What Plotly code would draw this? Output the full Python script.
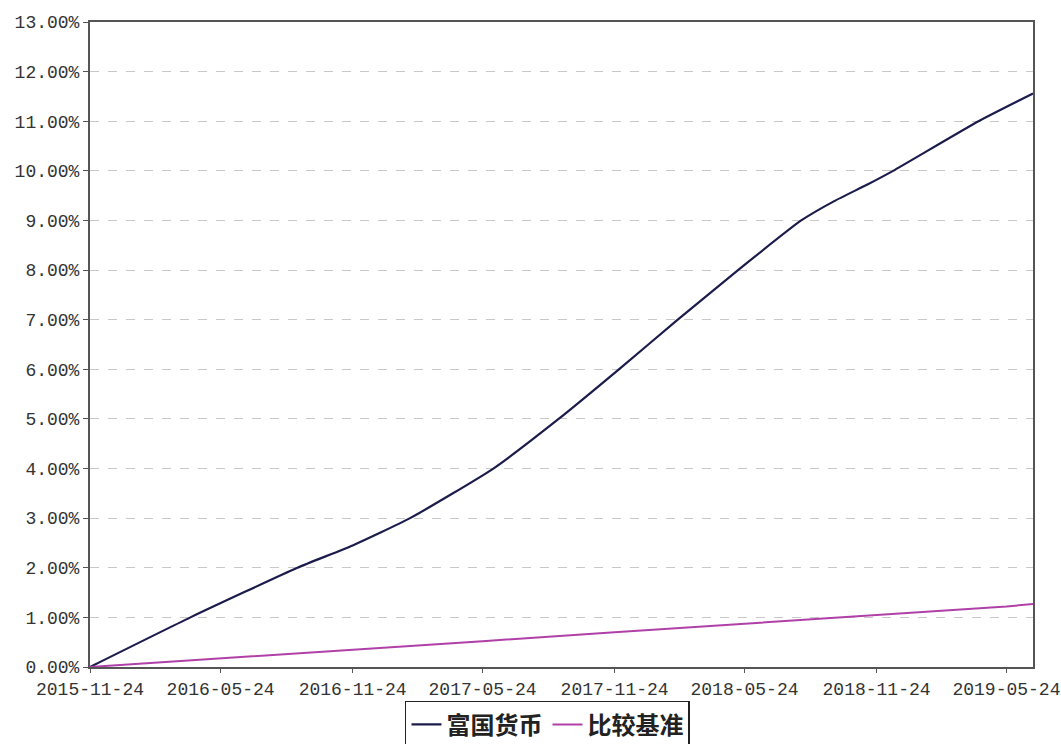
import plotly.graph_objects as go

# Fund cumulative return (%), read at the dates where it crosses each level
fund_dates = [
    "2015-11-24", "2016-04-12", "2016-09-08", "2016-11-24", "2017-02-12",
    "2017-06-08", "2017-09-07", "2017-11-30", "2018-02-20", "2018-05-15",
    "2018-08-11", "2018-09-26", "2018-11-12", "2018-12-17", "2019-04-15",
    "2019-06-30",
]
fund_values = [
    0.00, 1.00, 2.00, 2.45, 3.00,
    4.00, 5.00, 6.00, 7.00, 8.00,
    9.00, 9.39, 9.73, 10.00, 11.00,
    11.56,
]

# Benchmark cumulative return (%)
bench_dates = [
    "2015-11-24", "2016-05-24", "2016-11-24", "2017-05-24", "2017-11-24",
    "2018-05-24", "2018-11-24", "2019-05-24", "2019-06-30",
]
bench_values = [0.00, 0.17, 0.35, 0.52, 0.70, 0.87, 1.05, 1.22, 1.27]

x_ticks = [
    "2015-11-24", "2016-05-24", "2016-11-24", "2017-05-24",
    "2017-11-24", "2018-05-24", "2018-11-24", "2019-05-24",
]
y_ticks = list(range(0, 14))

fund_name = "富国货币"
bench_name = "比较基准"

tick_font = dict(family="Liberation Mono, DejaVu Sans Mono, monospace", size=18, color="#333333")

fig = go.Figure()
fig.add_trace(go.Scatter(
    x=fund_dates, y=fund_values, name=fund_name, mode="lines",
    line=dict(color="#1c1c4c", width=2.2, shape="spline", smoothing=0.5),
))
fig.add_trace(go.Scatter(
    x=bench_dates, y=bench_values, name=bench_name, mode="lines",
    line=dict(color="#b040a8", width=2),
))

fig.update_layout(
    width=1061, height=744,
    margin=dict(l=90, r=28, t=22, b=77, autoexpand=False),
    paper_bgcolor="white", plot_bgcolor="white",
    showlegend=True,
    legend=dict(
        orientation="h",
        xref="container", x=0.516, xanchor="center",
        yref="container", y=0.058, yanchor="top",
        font=dict(family="Noto Sans CJK SC", size=24, color="#222222", weight="bold"),
        bordercolor="#222222", borderwidth=1.5, bgcolor="white",
        itemwidth=30, tracegroupgap=0,
    ),
)

fig.update_xaxes(
    type="date", range=["2015-11-24", "2019-06-30"],
    tickvals=x_ticks, ticktext=x_ticks, automargin=False,
    tickfont=tick_font, ticks="outside", ticklen=4, tickcolor="#555555",
    showgrid=False, showline=True, linecolor="#555555", linewidth=2, mirror=True,
    zeroline=False,
)
fig.update_yaxes(
    range=[0, 13], tickvals=y_ticks, automargin=False,
    ticktext=[f"{v:.2f}%" for v in y_ticks],
    tickfont=tick_font, ticks="outside", ticklen=5, tickcolor="#555555",
    showgrid=True, gridcolor="#c8c8c8", griddash="dash", gridwidth=1,
    showline=True, linecolor="#555555", linewidth=2, mirror=True,
    zeroline=False,
)

fig.write_html("out.html")
